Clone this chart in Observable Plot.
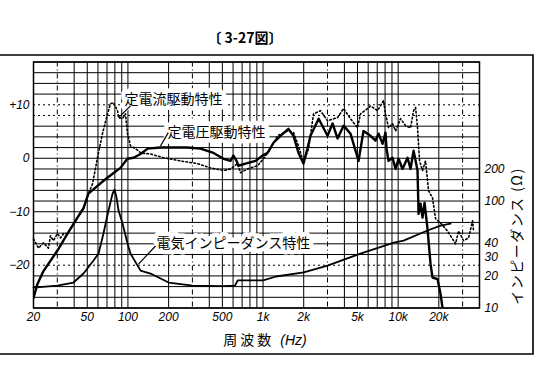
<!DOCTYPE html>
<html>
<head>
<meta charset="utf-8">
<script src="https://cdn.jsdelivr.net/npm/d3@7"></script>
<script src="https://cdn.jsdelivr.net/npm/@observablehq/plot@0.6"></script>
<style>
  html, body { margin: 0; padding: 0; background: #fff; }
  #chart svg { display: block; }
</style>
</head>
<body>
<div id="chart"></div>
<script>
// ---- tick labels ----
const xTickValues = [20, 50, 100, 200, 500, 1000, 2000, 5000, 10000, 20000];
const xTickLabels = ["20", "50", "100", "200", "500", "1k", "2k", "5k", "10k", "20k"];
const dbTickValues = [10, 0, -10, -20];
const dbTickLabels = ["+10", "0", "−10", "−20"];
const ohmTickValues = [10, 20, 30, 40, 100, 200];

// ---- grid ----
const gridFreqSolid = [20, 40, 50, 60, 70, 80, 90, 100, 200, 400, 500, 600, 700, 800, 900, 1000,
  2000, 4000, 5000, 6000, 7000, 8000, 9000, 10000, 20000, 40000];
const gridFreqDashed = [30, 300, 3000, 30000];
const gridDbSolid = [-28, -26, -24, -22, -18, -16, -14, -12, -10, -8, -6, -4, -2, 0, 2, 4, 6, 12, 14, 16, 18];
const gridDbDashed = [-20, 8, 10];

// ---- constant voltage drive (solid, dB) ----
const voltageFreq = [20, 21.4, 23.7, 30, 35.7, 42.3, 47, 51, 57.5, 66, 77, 88, 99, 110, 124, 140, 174, 217, 276, 344,
  430, 510, 574, 604, 637, 658, 741, 880, 990, 1080, 1195, 1346, 1540, 1680, 1830, 1990, 2130, 2245, 2580, 3000,
  3270, 3560, 3950, 4440, 5090, 5540, 6240, 6800, 7160, 7670, 8060, 8200, 8490, 9080, 9570, 10070, 10770, 11730, 12350, 13010,
  13910, 14160, 14650, 15150, 15680, 16490, 17370, 17960, 19560, 20600, 21300];
const voltageDb = [-26.1, -23.5, -21.1, -17.3, -14.1, -11.1, -9.3, -6.6, -5.5, -4.2, -2.9, -1.8, -0.1, 0.1, 0.8, 1.8, 2.0, 2.0, 2.0, 1.8,
  1.0, -0.1, -0.5, 0.5, -0.5, -1.4, -1.0, -0.5, 0.5, 1.0, 2.9, 4.2, 5.5, 4.2, 1.0, -1.0, 1.8, 4.2, 7.4, 4.2,
  6.5, 3.7, 6.1, 4.6, -0.5, 5.1, 4.2, 3.3, 4.6, 2.7, 4.8, 1.8, -0.5, 0.1, -2.0, -0.1, -2.0, 0.1, -2.0, 1.4,
  -2.3, -10.4, -8.5, -11.1, -8.3, -13.2, -19.8, -22.3, -22.6, -25.4, -28];

// ---- constant current drive (dotted, dB) ----
const currentFreq = [20, 21.8, 23.7, 25.8, 26.7, 28.1, 30.1, 31.7, 33.4, 35.7, 42.3, 46.9, 51.1, 54.7, 59.5, 64.8, 70.6, 74.3, 78.2, 83.7,
  85.2, 91.2, 95.9, 99.3, 104.5, 110, 119.7, 124, 147, 183, 245, 327, 408, 510, 574, 647, 681, 768, 910, 1007,
  1135, 1280, 1517, 1681, 1829, 1994, 2171, 2365, 2662, 3000, 3558, 3945, 4440, 5004, 5264, 5933, 6240, 7031, 7800, 8060,
  8494, 9082, 9568, 10405, 11340, 12350, 13010, 13460, 13910, 14400, 15150, 15940, 16790, 17960, 18920, 20600, 23190, 26600, 28000, 30480,
  33190, 35550, 36140];
const currentDb = [-15.1, -16.8, -15.8, -16.8, -14.5, -15.4, -14.1, -14.9, -14.1, -14.1, -11.1, -9.3, -6.5, -4.8, 0.1, 4.6, 8.3, 10.2, 10.4, 8.9,
  7.6, 7.4, 8.3, 4.6, 2.3, 2.0, 1.4, 1.0, 0.8, 0.1, -0.5, -1.0, -1.8, -2.3, -2.0, -1.0, -2.7, -2.0, -1.4, -0.1,
  1.8, 4.2, 5.1, 4.8, 2.3, -0.8, 1.8, 8.3, 8.9, 7.0, 7.6, 9.3, 7.4, 5.7, 8.3, 9.3, 9.8, 8.9, 10.8, 8.3,
  5.7, 6.5, 5.1, 7.4, 6.1, 5.7, 8.9, 9.5, 5.7, -0.5, -2.3, -0.5, -6.1, -7.4, -11.3, -12.1, -13.6, -16.0, -13.6, -15.4,
  -14.9, -11.7, -13.6];

// ---- electrical impedance (ohm) ----
const impFreq = [20, 30, 39.5, 46.9, 55.6, 60.6, 65.9, 71.8, 76.9, 79.6, 82.3, 85.2, 91.2, 99.3, 104.5, 117.8, 124, 147, 200, 300,
  500, 620, 650, 1000, 1250, 2000, 3000, 5260, 9300, 10960, 16490, 20600, 24430];
const impOhm = [15.5, 16.2, 17.3, 21, 27.8, 32.3, 49.7, 81.5, 117, 128, 108, 81.5, 61.6, 40.1, 32.3, 24.9, 22.4, 21, 17.3, 16.2,
  16, 16.2, 18.1, 18.1, 19.7, 21.5, 24.9, 32.3, 40.9, 42.7, 53, 59, 61.6];

// ---- annotations ----
const labelTexts = ["定電流駆動特性", "定電圧駆動特性", "電気インピーダンス特性"];
const labelFreq = [217, 452, 604];
const labelDb = [11.0, 4.8, -16.0];
const leaderFreq1 = [85.2, 174, 119.7];
const leaderDb1 = [7.6, 2.3, -19.8];
const leaderFreq2 = [104.5, 199, 160];
const leaderDb2 = [9.8, 4.8, -16.4];

// impedance axis mapping: 10 ohm sits at the bottom (-28 dB), 20 dB per decade
const ohmRef = 10, dbAtRef = -28;
const ohmToDb = z => dbAtRef + 20 * Math.log10(z / ohmRef);
const dbToOhm = d => ohmRef * Math.pow(10, (d - dbAtRef) / 20);

const voltage = voltageFreq.map((f, i) => ({f, v: voltageDb[i]}));
const current = currentFreq.map((f, i) => ({f, v: currentDb[i]}));
const imp = impFreq.map((f, i) => ({f, v: ohmToDb(impOhm[i])}));
const labels = labelTexts.map((t, i) => ({t, f: labelFreq[i], v: labelDb[i]}));
const leaders = leaderFreq1.map((f, i) => ({f1: f, v1: leaderDb1[i], f2: leaderFreq2[i], v2: leaderDb2[i]}));
const xTicks = xTickValues.map((v, i) => ({v, t: xTickLabels[i]}));
const yLabelMap = new Map(dbTickValues.map((v, i) => [v, dbTickLabels[i]]));

const W = 545, H = 367;
const chart = Plot.plot({
  width: W, height: H,
  marginLeft: 33, marginRight: 66, marginTop: 61.5, marginBottom: 59.5,
  style: {background: "#fff", color: "#000", fontFamily: "'Liberation Sans', sans-serif", fontSize: "12px", overflow: "visible"},
  x: {type: "log", domain: [20, 40000], axis: null},
  y: {domain: [-28, 18]},
  marks: [
    Plot.ruleX(gridFreqSolid, {x: d => d, stroke: "#000", strokeWidth: 1}),
    Plot.ruleX(gridFreqDashed, {x: d => d, stroke: "#000", strokeWidth: 1, strokeDasharray: "5,3,1,3"}),
    Plot.ruleY(gridDbSolid, {y: d => d, stroke: "#000", strokeWidth: 1}),
    Plot.ruleY(gridDbDashed, {y: d => d, stroke: "#000", strokeWidth: 1, strokeDasharray: "2,3"}),
    Plot.frame({stroke: "#000", strokeWidth: 1.5}),
    Plot.text(labels, {x: "f", y: "v", text: "t", fontFamily: "'Noto Sans CJK JP', sans-serif",
      fontSize: 14, fill: "#000", stroke: "#fff", strokeWidth: 9, strokeLinejoin: "round"}),
    Plot.line(imp, {x: "f", y: "v", stroke: "#000", strokeWidth: 1.8, curve: "linear"}),
    Plot.line(current, {x: "f", y: "v", stroke: "#000", strokeWidth: 1.6, strokeDasharray: "1.6,2.4"}),
    Plot.line(voltage, {x: "f", y: "v", stroke: "#000", strokeWidth: 2.4, clip: true}),
    Plot.link(leaders, {x1: "f1", y1: "v1", x2: "f2", y2: "v2", stroke: "#000", strokeWidth: 1.2}),
    Plot.text(xTicks, {x: "v", text: "t", frameAnchor: "bottom", dy: 13, fontStyle: "italic", fontSize: 12, fill: "#000"}),
    Plot.axisY({anchor: "left", ticks: dbTickValues, tickFormat: d => yLabelMap.get(d), tickSize: 0, tickPadding: 4,
      fontStyle: "italic", fontSize: 12, label: null}),
    Plot.axisY({anchor: "right", ticks: ohmTickValues.map(ohmToDb), tickFormat: d => String(Math.round(dbToOhm(d))),
      tickSize: 0, tickPadding: 5, fontStyle: "italic", fontSize: 12, label: null})
  ]
});
document.getElementById("chart").appendChild(chart);

// decorations: outer frame, titles
const svg = d3.select(chart);
const deco = svg.append("g").attr("stroke", "#000").attr("stroke-width", 1.6).attr("fill", "none");
deco.append("path").attr("d", "M0,55 H533 V354 H0");
svg.append("text").attr("x", 245).attr("y", 43).attr("text-anchor", "middle")
  .attr("font-family", "'Noto Sans CJK JP', sans-serif").attr("font-weight", "bold").attr("font-size", 14)
  .text("〔 3-27図〕");
const xt = svg.append("text").attr("x", 265).attr("y", 345).attr("text-anchor", "middle")
  .attr("font-family", "'Noto Sans CJK JP', sans-serif").attr("font-size", 14);
xt.append("tspan").attr("letter-spacing", 3).text("周波数 ");
xt.append("tspan").attr("font-style", "italic").attr("font-family", "'Liberation Sans', sans-serif").text("(Hz)");
svg.append("text").attr("transform", "translate(522,236) rotate(-90)").attr("text-anchor", "middle")
  .attr("font-family", "'Noto Sans CJK JP', sans-serif").attr("font-size", 14).attr("letter-spacing", 1.5)
  .text("インピーダンス (Ω)");
</script>
</body>
</html>
